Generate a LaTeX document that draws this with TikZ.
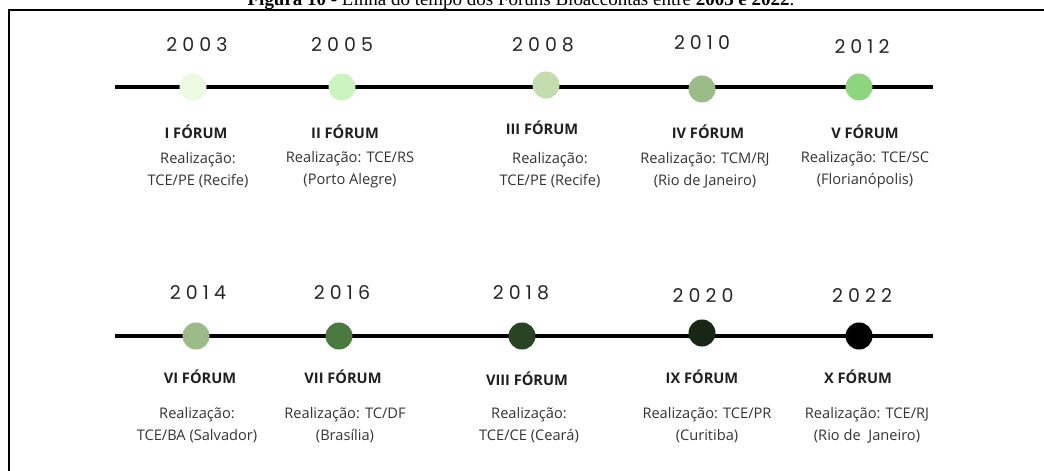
\documentclass[tikz,border=0pt]{standalone}
\usepackage{fontspec}
\setmainfont{Open Sans}
\newfontfamily\yearfont{Poppins}
\newfontfamily\capfont{Liberation Serif}
\usetikzlibrary{positioning}

\definecolor{dotI}{HTML}{EDF9E0}
\definecolor{dotII}{HTML}{CBF4BF}
\definecolor{dotIII}{HTML}{C3DDAF}
\definecolor{dotIV}{HTML}{9BBB89}
\definecolor{dotV}{HTML}{8ED57F}
\definecolor{dotVI}{HTML}{9BBC89}
\definecolor{dotVII}{HTML}{4A7A3F}
\definecolor{dotVIII}{HTML}{294422}
\definecolor{dotIX}{HTML}{172714}
\definecolor{dotX}{HTML}{000000}

\newlength{\yrgap}
\setlength{\yrgap}{0.36em}
\newcommand{\yr}[4]{#1\kern\yrgap#2\kern\yrgap#3\kern\yrgap#4}

\begin{document}
\begin{tikzpicture}[x=0.025cm,y=-0.025cm,
				year/.style={font=\yearfont\fontsize{13.5}{15}\selectfont,text=black!85,inner sep=0pt,text height=9.4pt,text depth=0pt},
				dot/.style={circle,minimum size=0.675cm,inner sep=0pt},
				forum/.style={font=\bfseries\fontsize{10.4}{12}\selectfont,text=black!88,inner sep=0pt,text height=7.4pt,text depth=0pt},
				realiz/.style={font=\fontsize{10.4}{15.6}\selectfont,text=black!80,align=center,inner sep=0pt},
				timeline/.style={line width=3.5pt}]
				\clip (0,0) rectangle (1044,471);
				\node[anchor=base,inner sep=0pt,font=\capfont\fontsize{13.5}{16}\selectfont] (CAPTION) at (521,5.5)
					{\textbf{Figura 10} - Linha do tempo dos Fóruns Bioaccontas entre \textbf{2003 e 2022}.};
				\draw[line width=1.5pt] (9,480) -- (9,10) -- (1050,10);
				% first line
				\coordinate (LINEAw) at (115,87);
				\coordinate (LINEAe) at (933,87);
				\draw[timeline] (LINEAw) -- (LINEAe);
				\node (D2003) [dot,fill=dotI]   at (193,87) {};
				\node (D2005) [dot,fill=dotII]  at (342,87) {};
				\node (D2008) [dot,fill=dotIII] at (546,85) {};
				\node (D2010) [dot,fill=dotIV]  at (702,89) {};
				\node (D2012) [dot,fill=dotV]   at (859,87) {};
				\node (Y2003) [year] at (197,45) {\yr2003};
				\node (Y2005) [year] at (342,45) {\yr2005};
				\node (Y2008) [year] at (543,45) {\yr2008};
				\node (Y2010) [year] at (702,43) {\yr2010};
				\node (Y2012) [year] at (862,47) {\yr2012};
				\node (F2003) [forum] at (196,133) {I FÓRUM};
				\node (F2005) [forum] at (345,133) {II FÓRUM};
				\node (F2008) [forum] at (542,129) {III FÓRUM};
				\node (F2010) [forum] at (708,133) {IV FÓRUM};
				\node (F2012) [forum] at (865,133) {V FÓRUM};
				\node (R2003) [realiz] at (198,170) {Realização:\\TCE/PE (Recife)};
				\node (R2005) [realiz] at (350,170) {Realização: TCE/RS\\(Porto Alegre)};
				\node (R2008) [realiz] at (550,170) {Realização:\\TCE/PE (Recife)};
				\node (R2010) [realiz] at (705,170) {Realização: TCM/RJ\\(Rio de Janeiro)};
				\node (R2012) [realiz] at (865,170) {Realização: TCE/SC\\(Florianópolis)};
				% second line
				\coordinate (LINEBw) at (115,336);
				\coordinate (LINEBe) at (933,336);
				\draw[timeline] (LINEBw) -- (LINEBe);
				\node (D2014) [dot,fill=dotVI]   at (196,336) {};
				\node (D2016) [dot,fill=dotVII]  at (339,336) {};
				\node (D2018) [dot,fill=dotVIII] at (522,336) {};
				\node (D2020) [dot,fill=dotIX]   at (702,333) {};
				\node (D2022) [dot,fill=dotX]    at (859,336) {};
				\node (Y2014) [year] at (198,293) {\yr2014};
				\node (Y2016) [year] at (342,293) {\yr2016};
				\node (Y2018) [year] at (521,293) {\yr2018};
				\node (Y2020) [year] at (703,296) {\yr2020};
				\node (Y2022) [year] at (862,296) {\yr2022};
				\node (F2014) [forum] at (200,378) {VI FÓRUM};
				\node (F2016) [forum] at (343,378) {VII FÓRUM};
				\node (F2018) [forum] at (527,380) {VIII FÓRUM};
				\node (F2020) [forum] at (702,378) {IX FÓRUM};
				\node (F2022) [forum] at (858,378) {X FÓRUM};
				\node (R2014) [realiz] at (197,425) {Realização:\\TCE/BA (Salvador)};
				\node (R2016) [realiz] at (345,425) {Realização: TC/DF\\(Brasília)};
				\node (R2018) [realiz] at (529,425) {Realização:\\TCE/CE (Ceará)};
				\node (R2020) [realiz] at (707,425) {Realização: TCE/PR\\(Curitiba)};
				\node (R2022) [realiz] at (867,425) {Realização: TCE/RJ\\(Rio de~ Janeiro)};
\end{tikzpicture}
\end{document}
